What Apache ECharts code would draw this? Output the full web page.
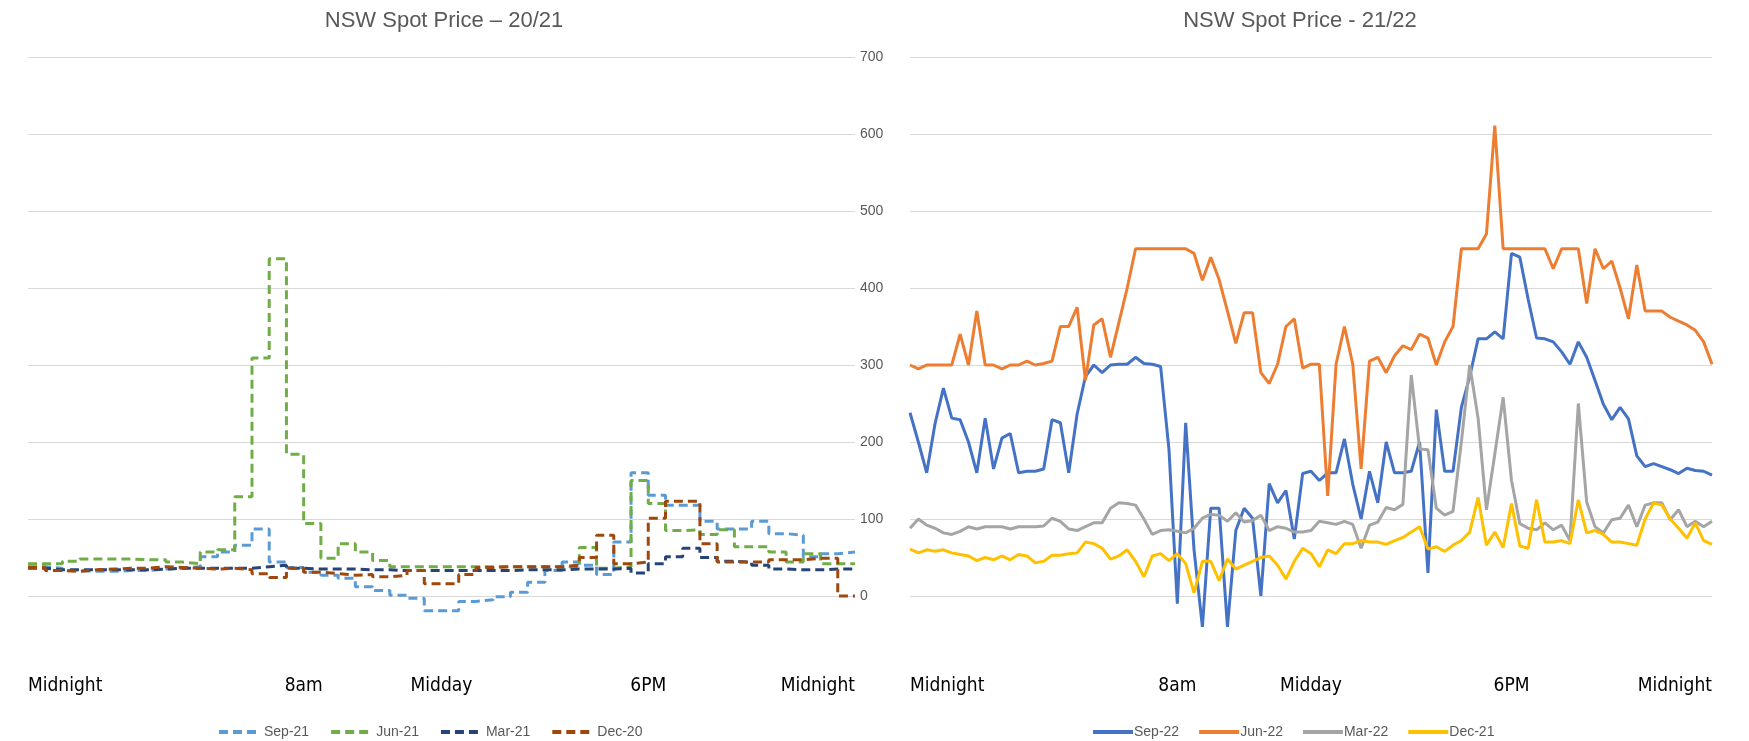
<!DOCTYPE html>
<html>
<head>
<meta charset="utf-8">
<title>NSW Spot Price</title>
<script src="https://cdn.jsdelivr.net/npm/echarts@6/dist/echarts.min.js"></script>
<style>
  html, body { margin: 0; padding: 0; background: #fff; }
  #chart { width: 1749px; height: 741px; }
</style>
</head>
<body>
<div id="chart"></div>
<script>
// left panel: 30 minute settlement, 49 points (00:00 .. 24:00)
const leftTimes = [];
for (let i = 0; i <= 48; i++) {
  const h = Math.floor(i / 2), m = i % 2 ? '30' : '00';
  leftTimes.push(String(h).padStart(2, '0') + ':' + m);
}
// right panel: read every 15 minutes, 97 points
const rightTimes = [];
for (let i = 0; i <= 96; i++) {
  const h = Math.floor(i / 4), m = (i % 4) * 15;
  rightTimes.push(String(h).padStart(2, '0') + ':' + String(m).padStart(2, '0'));
}

const tickNames = ['Midnight', '8am', 'Midday', '6PM', 'Midnight'];
const leftTickIdx = [0, 16, 24, 36, 48];
const rightTickIdx = [0, 32, 48, 72, 96];
const yTicks = [0, 100, 200, 300, 400, 500, 600, 700];

const sep21 = [38, 36, 33, 32, 32, 33, 33, 35, 36, 38, 51, 57, 66, 87, 44, 37, 31, 27, 23, 12, 7, 1, -3, -19,
  -19, -7, -5, -1, 5, 18, 33, 44, 40, 28, 70, 160, 131, 118, 118, 97, 87, 87, 97, 81, 79, 51, 55, 57, 57];
const jun21 = [42, 42, 45, 48, 48, 48, 47, 47, 44, 42, 57, 60, 129, 309, 438, 184, 94, 49, 68, 57, 46, 38, 38, 38,
  38, 38, 38, 38, 38, 38, 38, 38, 63, 36, 38, 150, 120, 85, 86, 80, 86, 64, 64, 57, 44, 55, 42, 42, 42];
const mar21 = [36, 34, 34, 34, 34, 34, 34, 35, 36, 36, 36, 36, 36, 38, 40, 36, 35, 35, 35, 34, 34, 33, 33, 33,
  33, 33, 33, 33, 34, 34, 34, 35, 35, 35, 36, 30, 42, 51, 62, 50, 45, 44, 40, 35, 34, 34, 35, 35, 35];
const dec20 = [37, 33, 32, 34, 35, 36, 36, 38, 37, 36, 35, 36, 34, 29, 24, 36, 31, 29, 27, 28, 25, 27, 33, 16,
  16, 28, 37, 38, 38, 38, 38, 40, 50, 79, 42, 44, 101, 123, 123, 68, 44, 44, 44, 47, 47, 49, 49, 0, 0];

const sep22 = [238, 200, 160, 224, 270, 231, 229, 200, 160, 231, 165, 205, 211, 160, 162, 162, 165, 229, 225, 160, 236, 285, 300, 290,
  300, 301, 301, 310, 302, 301, 298, 190, -10, 225, 60, -40, 114, 114, -40, 85, 114, 101, 0, 146, 121, 137, 74, 159,
  162, 150, 160, 160, 204, 145, 100, 162, 121, 200, 160, 160, 162, 200, 30, 242, 162, 162, 245, 285, 334, 334, 343, 334,
  445, 440, 385, 335, 334, 330, 317, 301, 330, 310, 280, 249, 229, 245, 230, 182, 168, 172, 168, 164, 159, 166, 163, 162, 157];
const jun22 = [300, 295, 300, 300, 300, 300, 340, 300, 370, 300, 300, 295, 300, 300, 305, 300, 302, 305, 350, 350, 375, 280, 352, 360,
  310, 355, 400, 451, 451, 451, 451, 451, 451, 451, 445, 410, 440, 411, 370, 328, 368, 368, 290, 276, 301, 350, 360, 296,
  301, 301, 130, 301, 350, 301, 165, 305, 310, 290, 312, 325, 320, 340, 335, 300, 330, 350, 451, 451, 451, 470, 611, 451,
  451, 451, 451, 451, 451, 425, 451, 451, 451, 380, 451, 425, 435, 400, 360, 430, 370, 370, 370, 362, 357, 352, 345, 330, 301];
const mar22 = [88, 100, 92, 88, 82, 80, 84, 90, 87, 90, 90, 90, 87, 90, 90, 90, 91, 101, 97, 87, 85, 90, 95, 95,
  114, 121, 120, 118, 100, 80, 85, 86, 84, 82, 88, 101, 106, 105, 97, 108, 96, 98, 105, 85, 90, 88, 83, 83,
  85, 97, 95, 93, 97, 93, 62, 92, 96, 115, 112, 119, 287, 191, 190, 114, 105, 110, 200, 300, 231, 112, 184, 258,
  150, 94, 88, 86, 95, 86, 92, 72, 250, 122, 90, 82, 99, 101, 118, 90, 118, 121, 121, 99, 112, 90, 97, 90, 97];
const dec21 = [61, 56, 60, 58, 60, 56, 54, 52, 46, 50, 47, 52, 47, 54, 52, 43, 45, 53, 53, 55, 56, 70, 68, 62,
  48, 52, 60, 45, 25, 52, 55, 46, 55, 42, 4, 45, 45, 20, 48, 35, 40, 45, 50, 52, 40, 22, 45, 62,
  55, 38, 60, 55, 68, 68, 72, 70, 70, 67, 72, 76, 83, 90, 61, 64, 58, 66, 72, 83, 128, 66, 83, 63,
  120, 65, 62, 125, 70, 70, 72, 68, 125, 82, 85, 80, 70, 70, 68, 66, 100, 121, 118, 100, 88, 75, 95, 72, 67];

const chart = echarts.init(document.getElementById('chart'));

const labelFont = "'DejaVu Sans Condensed', 'Liberation Sans Narrow', sans-serif";
const textFont = "'Liberation Sans', Arial, sans-serif";

function xAxisFor(gridIndex, times, tickIdx) {
  return {
    type: 'category',
    gridIndex: gridIndex,
    data: times,
    boundaryGap: false,
    axisLine: { show: false },
    axisTick: { show: false },
    splitLine: { show: false },
    axisLabel: {
      interval: (idx) => tickIdx.includes(idx),
      formatter: (val, idx) => tickNames[tickIdx.indexOf(idx)] || '',
      color: '#000',
      fontFamily: labelFont,
      fontSize: 19,
      margin: 4,
      alignMinLabel: 'left',
      alignMaxLabel: 'right',
    },
  };
}

function yAxisFor(gridIndex, showLabels) {
  return {
    type: 'value',
    gridIndex: gridIndex,
    position: 'right',
    min: -100,
    max: 700,
    interval: 100,
    axisLine: { show: false },
    axisTick: { show: false },
    splitLine: { show: true, showMinLine: false, lineStyle: { color: '#d9d9d9', width: 1 } },
    axisLabel: {
      show: showLabels,
      margin: 5,
      color: '#595959',
      fontFamily: textFont,
      fontSize: 14,
      formatter: (v) => (yTicks.includes(v) ? String(v) : ''),
    },
  };
}

function dashed(name, data, color) {
  return {
    name: name, type: 'line', xAxisIndex: 0, yAxisIndex: 0, data: data,
    step: 'end', symbol: 'none',
    lineStyle: { color: color, width: 3, type: [9, 5] },
    itemStyle: { color: color },
  };
}

function solid(name, data, color) {
  return {
    name: name, type: 'line', xAxisIndex: 1, yAxisIndex: 1, data: data,
    symbol: 'none',
    lineStyle: { color: color, width: 3 },
    itemStyle: { color: color },
  };
}

const option = {
  animation: false,
  backgroundColor: '#fff',
  title: [
    { text: 'NSW Spot Price \u2013 20/21', left: 444, top: 10, textAlign: 'center', padding: 0,
      textStyle: { color: '#595959', fontFamily: textFont, fontWeight: 'normal', fontSize: 22 } },
    { text: 'NSW Spot Price - 21/22', left: 1300, top: 10, textAlign: 'center', padding: 0,
      textStyle: { color: '#595959', fontFamily: textFont, fontWeight: 'normal', fontSize: 22 } },
  ],
  legend: [
    { data: ['Sep-21', 'Jun-21', 'Mar-21', 'Dec-20'], left: 217, top: 725, padding: 0,
      itemWidth: 40, itemHeight: 10, itemGap: 20,
      itemStyle: { opacity: 0 },
      lineStyle: { width: 4 },
      textStyle: { color: '#595959', fontFamily: textFont, fontSize: 14 } },
    { data: ['Sep-22', 'Jun-22', 'Mar-22', 'Dec-21'], left: 1091, top: 725, padding: 0,
      itemWidth: 40, itemHeight: 10, itemGap: 18,
      itemStyle: { opacity: 0 },
      lineStyle: { width: 4 },
      textStyle: { color: '#595959', fontFamily: textFont, fontSize: 14, padding: [0, 0, 0, -4] } },
  ],
  grid: [
    { left: 28, right: 894, top: 57, bottom: 68, outerBoundsMode: 'none' },
    { left: 910, right: 37, top: 57, bottom: 68, outerBoundsMode: 'none' },
  ],
  xAxis: [xAxisFor(0, leftTimes, leftTickIdx), xAxisFor(1, rightTimes, rightTickIdx)],
  yAxis: [yAxisFor(0, true), yAxisFor(1, false)],
  series: [
    dashed('Sep-21', sep21, '#5b9bd5'),
    dashed('Jun-21', jun21, '#70ad47'),
    dashed('Mar-21', mar21, '#264478'),
    dashed('Dec-20', dec20, '#9e480e'),
    solid('Sep-22', sep22, '#4472c4'),
    solid('Jun-22', jun22, '#ed7d31'),
    solid('Mar-22', mar22, '#a5a5a5'),
    solid('Dec-21', dec21, '#ffc000'),
  ],
};

chart.setOption(option);
</script>
</body>
</html>
